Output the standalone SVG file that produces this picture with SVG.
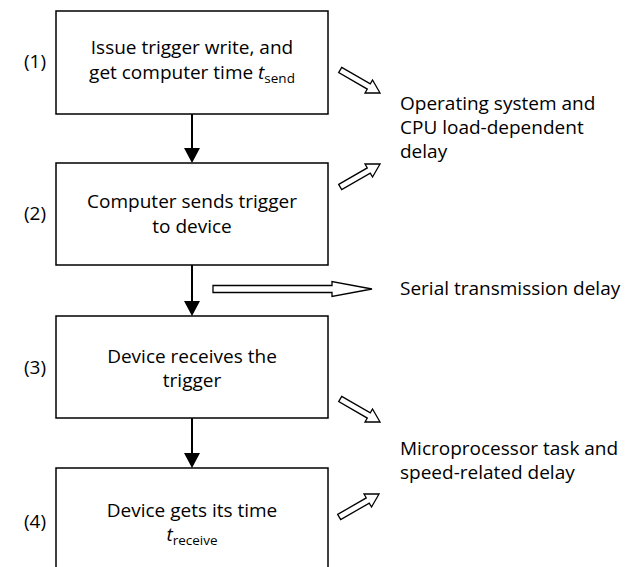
<svg xmlns="http://www.w3.org/2000/svg" width="630" height="567" viewBox="0 0 630 567">
  <style>
    .box { fill: #fff; stroke: #000; stroke-width: 1.5; }
    .txt { font-family: "Open Sans", "Liberation Sans", sans-serif; font-size: 19px; fill: #000; }
    .mid { text-anchor: middle; }
    .sub { font-size: 13.5px; }
    .it { font-style: italic; }
    .flow { stroke: #000; stroke-width: 2; fill: none; }
    .head { fill: #000; }
    .hollow { fill: #fff; stroke: #000; stroke-width: 1.3; stroke-linejoin: miter; }
  </style>
  <defs>
    <!-- open outline arrow, drawn along +x from its tail at the origin -->
    <path id="open-arrow" d="M0,-3 H33 V-7.5 L46,0 L33,7.5 V3 H0 Z"/>
  </defs>

  <!-- step boxes -->
  <g id="step1">
    <rect class="box" x="56" y="11" width="272" height="103"/>
    <text class="txt mid" x="192" y="54">Issue trigger write, and</text>
    <text class="txt mid" x="192" y="79">get computer time <tspan class="it">t</tspan><tspan class="sub" dy="4">send</tspan></text>
    <text class="txt" x="24" y="68">(1)</text>
  </g>
  <g id="step2">
    <rect class="box" x="56" y="163" width="272" height="102"/>
    <text class="txt mid" x="192" y="208">Computer sends trigger</text>
    <text class="txt mid" x="192" y="233">to device</text>
    <text class="txt" x="24" y="220">(2)</text>
  </g>
  <g id="step3">
    <rect class="box" x="56" y="316" width="272" height="102"/>
    <text class="txt mid" x="192" y="363">Device receives the</text>
    <text class="txt mid" x="192" y="387">trigger</text>
    <text class="txt" x="24" y="374">(3)</text>
  </g>
  <g id="step4">
    <rect class="box" x="56" y="468" width="272" height="120"/>
    <text class="txt mid" x="192" y="517">Device gets its time</text>
    <text class="txt mid" x="192" y="541"><tspan class="it">t</tspan><tspan class="sub" dy="4">receive</tspan></text>
    <text class="txt" x="24" y="528">(4)</text>
  </g>

  <!-- delay labels -->
  <g id="delay-os">
    <text class="txt" x="400" y="110">Operating system and</text>
    <text class="txt" x="400" y="134">CPU load-dependent</text>
    <text class="txt" x="400" y="158">delay</text>
  </g>
  <g id="delay-serial">
    <text class="txt" x="400" y="295">Serial transmission delay</text>
  </g>
  <g id="delay-mcu">
    <text class="txt" x="400" y="455">Microprocessor task and</text>
    <text class="txt" x="400" y="479">speed-related delay</text>
  </g>

  <!-- connectors -->
  <g id="connectors">
    <line class="flow" x1="192" y1="114" x2="192" y2="149"/>
    <polygon class="head" points="184,148 200,148 192,163"/>
    <line class="flow" x1="192" y1="265" x2="192" y2="302"/>
    <polygon class="head" points="184,301 200,301 192,316"/>
    <line class="flow" x1="192" y1="418" x2="192" y2="454"/>
    <polygon class="head" points="184,453 200,453 192,468"/>

    <use href="#open-arrow" class="hollow" transform="translate(340.2,70) rotate(30)"/>
    <use href="#open-arrow" class="hollow" transform="translate(340.2,187) rotate(-30)"/>
    <path class="hollow" d="M213,285.5 H332 V281.5 L372,289 L332,296.5 V292.5 H213 Z"/>
    <use href="#open-arrow" class="hollow" transform="translate(340.2,399) rotate(30)"/>
    <use href="#open-arrow" class="hollow" transform="translate(339.2,517) rotate(-30)"/>
  </g>
</svg>
